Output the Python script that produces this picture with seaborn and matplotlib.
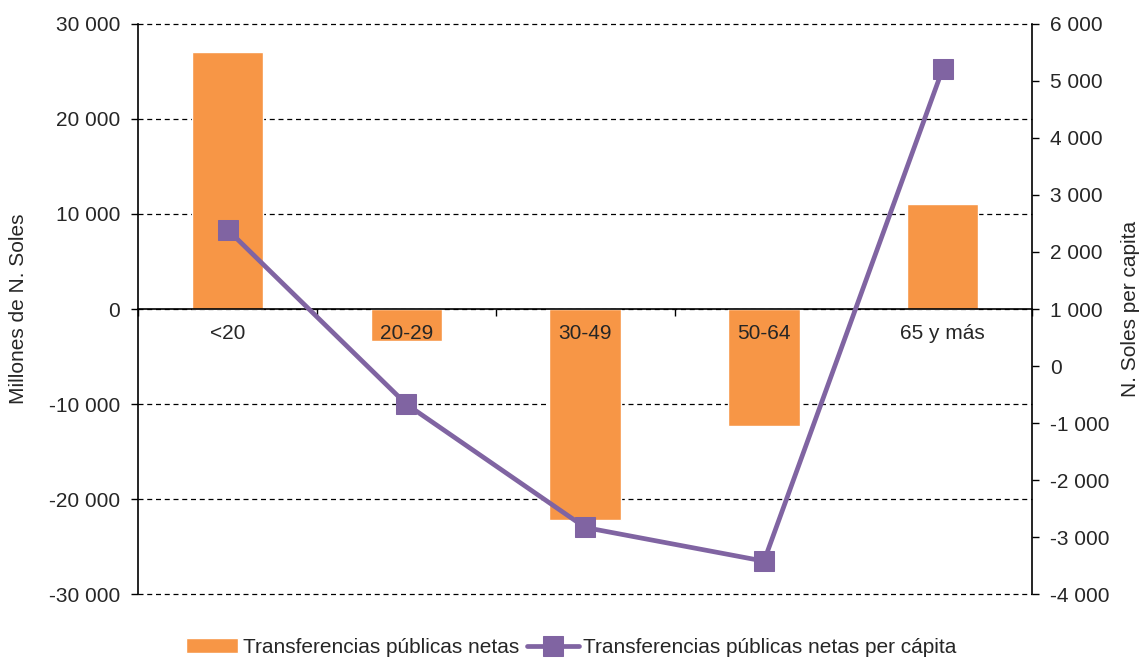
import matplotlib.pyplot as plt
import matplotlib.ticker as mticker
import seaborn as sns
import pandas as pd

grupos = ['<20', '20-29', '30-49', '50-64', '65 y más']
netas = [27000, -3400, -22200, -12300, 11000]
per_capita = [2390, -670, -2830, -3420, 5210]
ticks_izq = [-30000, -20000, -10000, 0, 10000, 20000, 30000]

df = pd.DataFrame({'grupo': grupos, 'netas': netas, 'per_capita': per_capita})

sns.set_theme(style="white")
plt.rcParams['font.family'] = ['Liberation Sans', 'DejaVu Sans']

naranja = '#F79646'
morado = '#8064A2'
fs = 15

def miles(v, p):
    return f'{v:,.0f}'.replace(',', ' ')

fig, ax = plt.subplots(figsize=(11.43, 6.61), dpi=100)
fig.subplots_adjust(left=0.121, right=0.903, top=0.964, bottom=0.101)

sns.barplot(data=df, x='grupo', y='netas', color=naranja, width=0.4,
            saturation=1, ax=ax, label='Transferencias públicas netas')
h1, l1 = ax.get_legend_handles_labels()
if ax.get_legend() is not None:
    ax.get_legend().remove()
for p in ax.patches:
    p.set_zorder(1)

ax.set_ylim(-30000, 30000)
ax.set_xlim(-0.5, 4.5)
ax.set_yticks(ticks_izq)
ax.yaxis.set_major_formatter(mticker.FuncFormatter(miles))
# dashed gridlines behind the bars
for t in ticks_izq:
    ax.axhline(t, color='black', linestyle=(0, (4, 3)), linewidth=0.9,
               zorder=0, clip_on=False)
ax.grid(False)
ax.set_axisbelow(False)

ax.spines['bottom'].set_position(('data', 0))
ax.spines['top'].set_visible(False)
ax.spines['right'].set_visible(False)
for s in ['left', 'bottom']:
    ax.spines[s].set_color('black')
    ax.spines[s].set_linewidth(1.2)
    ax.spines[s].set_zorder(3)
ax.set_xticks(range(len(grupos)))
ax.set_xticklabels(grupos)
ax.set_xticks([-0.5, 0.5, 1.5, 2.5, 3.5, 4.5], minor=True)
ax.tick_params(axis='x', which='major', length=0, pad=11, labelsize=fs)
ax.tick_params(axis='x', which='minor', bottom=True, length=5, width=1, direction='out', color='black')
ax.tick_params(axis='y', left=True, length=5, width=1, color='black', labelsize=fs, pad=8)
ax.set_xlabel('')
ax.set_ylabel('Millones de N. Soles', fontsize=fs)
ax.yaxis.set_label_coords(-0.123, 0.5)

ax2 = ax.twinx()
sns.lineplot(data=df, x='grupo', y='per_capita', color=morado, linewidth=3.4,
             marker='s', markersize=14.5, markeredgecolor=morado, ax=ax2,
             label='Transferencias públicas netas per cápita', legend=False)
ax2.set_ylim(-4000, 6000)
ax2.yaxis.set_major_locator(mticker.MultipleLocator(1000))
ax2.yaxis.set_major_formatter(mticker.FuncFormatter(miles))
for s in ['top', 'left', 'bottom']:
    ax2.spines[s].set_visible(False)
ax2.spines['right'].set_color('black')
ax2.spines['right'].set_linewidth(1.2)
ax2.tick_params(axis='y', right=True, length=5, width=1, color='black', labelsize=fs, pad=8)
ax2.set_ylabel('N. Soles per capita', fontsize=fs)
ax2.yaxis.set_label_coords(1.0996, 0.5)
ax2.grid(False)

h2, l2 = ax2.get_legend_handles_labels()
fig.legend(h1 + h2, l1 + l2, loc='lower center', ncol=2, frameon=False,
           fontsize=fs, bbox_to_anchor=(0.5, -0.022), handlelength=2.5,
           columnspacing=0.4, handletextpad=0.2)

fig.savefig('out.png', dpi=100)
